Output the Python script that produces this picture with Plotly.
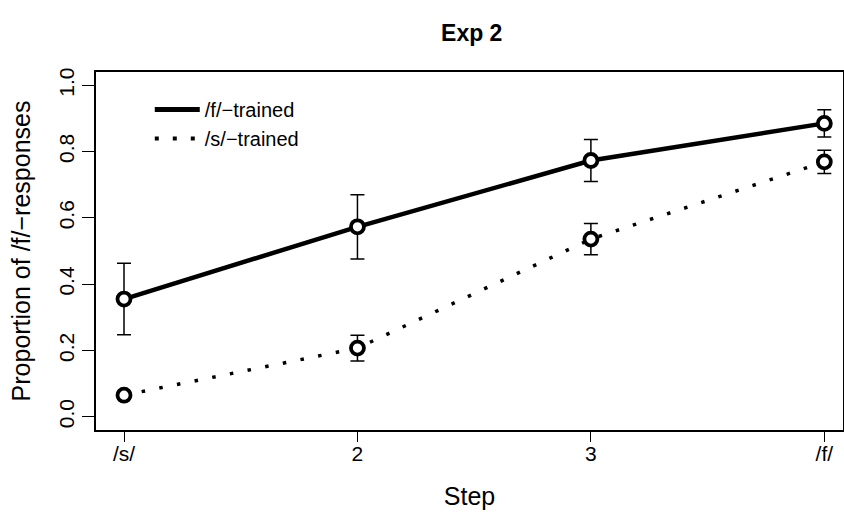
import plotly.graph_objects as go

steps = [1, 2, 3, 4]
step_labels = ["/s/", "2", "3", "/f/"]
f_trained = [0.355, 0.573, 0.773, 0.885]
f_err = [0.108, 0.097, 0.063, 0.041]
s_trained = [0.065, 0.207, 0.536, 0.769]
s_err = [0.012, 0.039, 0.047, 0.035]
y_ticks = [0.0, 0.2, 0.4, 0.6, 0.8, 1.0]

FONT = "Liberation Sans, Arial, Helvetica, sans-serif"

fig = go.Figure()

marker = dict(symbol="circle", size=13, color="white", line=dict(color="black", width=3.8))
err = dict(type="data", thickness=1.5, width=7, color="black")

fig.add_trace(go.Scatter(
    x=steps, y=f_trained, mode="lines+markers", showlegend=False,
    line=dict(color="black", width=4.5), marker=marker,
    error_y=dict(array=f_err, **err)))
fig.add_trace(go.Scatter(
    x=steps, y=s_trained, mode="lines+markers", showlegend=False,
    line=dict(color="black", width=3.5, dash="3.5px,14.5px"), marker=marker,
    error_y=dict(array=s_err, **err)))

# legend-only entries (lines only, no markers)
fig.add_trace(go.Scatter(x=[None], y=[None], mode="lines", name="/f/\u2212trained",
                         line=dict(color="black", width=5)))
fig.add_trace(go.Scatter(x=[None], y=[None], mode="lines", name="/s/\u2212trained",
                         line=dict(color="black", width=4, dash="4px,14px")))

fig.update_layout(
    width=844, height=518,
    margin=dict(l=96, r=1, t=72, b=88, autoexpand=False),
    paper_bgcolor="white", plot_bgcolor="white",
    font=dict(family=FONT, size=21, color="black"),
    title=dict(text="<b>Exp 2</b>", font=dict(size=23), xref="paper", x=0.503,
               xanchor="center", yref="container", y=1 - 33 / 518, yanchor="middle"),
    legend=dict(x=0.072, y=0.95, xanchor="left", yanchor="top", bgcolor="rgba(0,0,0,0)",
                font=dict(size=20), tracegroupgap=0, itemwidth=45),
    xaxis=dict(range=[0.88, 4.08], tickmode="array", tickvals=steps, ticktext=step_labels,
               automargin=False, ticklabelstandoff=-6,
               showgrid=False, zeroline=False, showline=True, linecolor="black", linewidth=1.5,
               mirror=True, ticks="outside", ticklen=10, tickwidth=1.2, tickcolor="black",
               title=dict(text="Step", standoff=24)),
    yaxis=dict(range=[-0.04, 1.04], tickmode="array", tickvals=y_ticks,
               ticktext=[f"{v:.1f}" for v in y_ticks], tickangle=-90, automargin=False,
               showgrid=False, zeroline=False, showline=True, linecolor="black", linewidth=1.5,
               mirror=True, ticks="outside", ticklen=12, tickwidth=1.2, tickcolor="black",
               title=dict(text="Proportion of /f/\u2212responses", standoff=17)),
)

fig.write_html("out.html", config={"displayModeBar": False},
               post_script="document.body.style.margin='0';document.body.style.overflow='hidden';")
